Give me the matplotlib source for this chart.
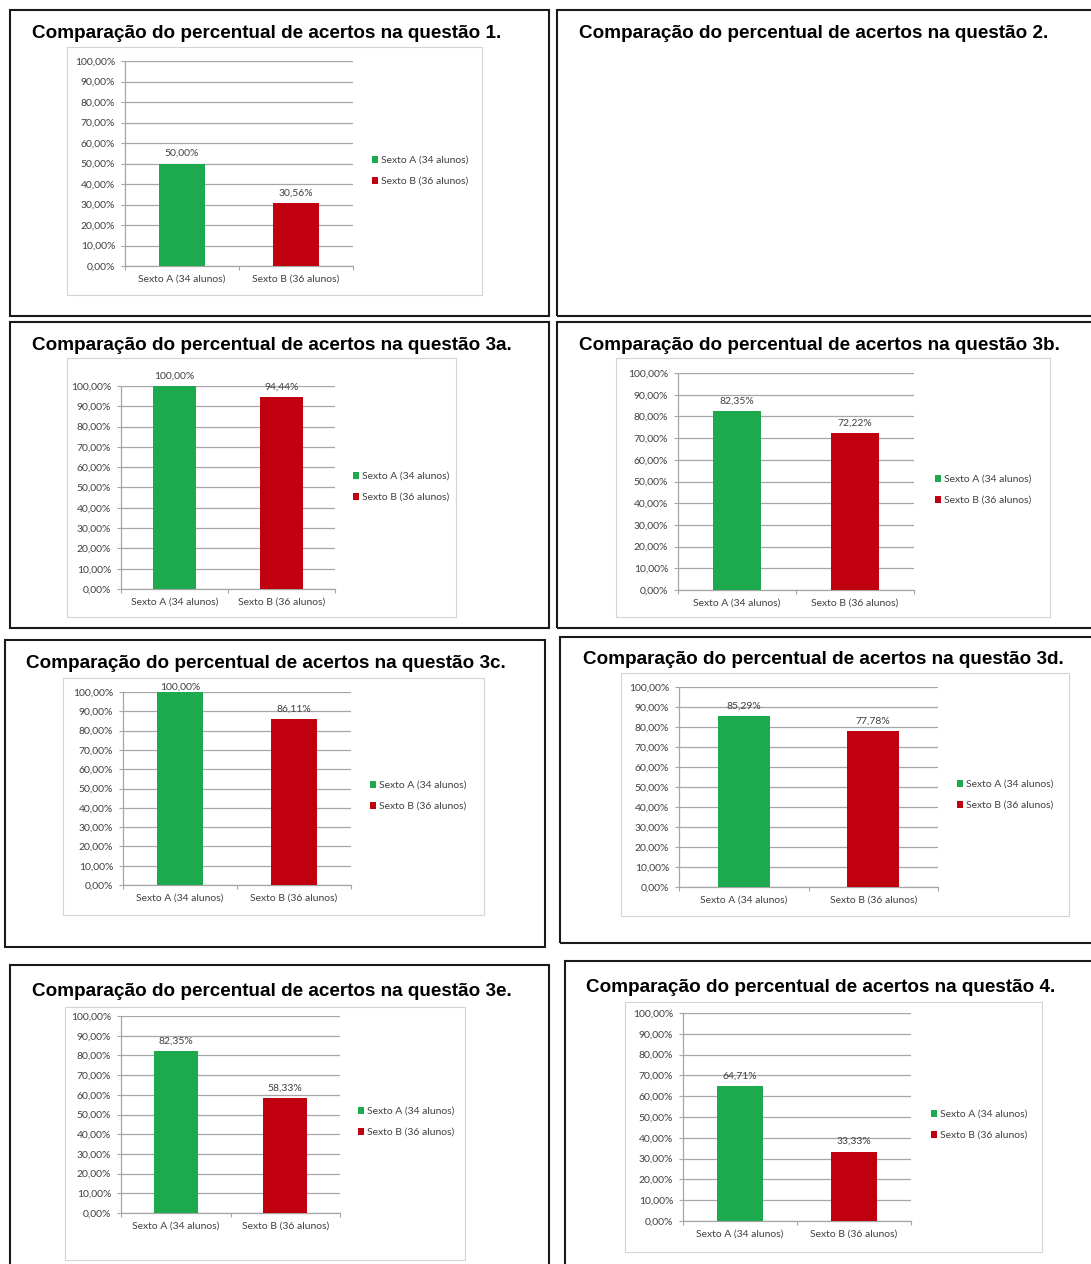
import matplotlib.pyplot as plt
from matplotlib.patches import Rectangle

W, H = 1091, 1264

# dados
questoes = ["1", "2", "3a", "3b", "3c", "3d", "3e", "4"]
turmas = ["Sexto A (34 alunos)", "Sexto B (36 alunos)"]
sexto_a = [50.00, None, 100.00, 82.35, 100.00, 85.29, 82.35, 64.71]
sexto_b = [30.56, None, 94.44, 72.22, 86.11, 77.78, 58.33, 33.33]
yticks = [0, 10, 20, 30, 40, 50, 60, 70, 80, 90, 100]

cores = ["#1daa4f", "#c0000e"]

# layout em pixels (x0, y0, x1, y1)
molduras = [(10, 10, 549, 316), (557, 10, 1093, 316),
            (10, 322, 549, 628), (557, 322, 1093, 628),
            (5, 640, 545, 947), (560, 637, 1093, 943),
            (10, 965, 549, 1268), (565, 961, 1093, 1268)]
titulos_xy = [(32, 33), (579, 33), (32, 345), (579, 345),
              (26, 663), (583, 660), (32, 992), (586, 987)]
caixas = [(67, 47, 482, 295), None, (67, 358, 456, 617), (616, 358, 1050, 617),
          (63, 678, 484, 915), (621, 673, 1069, 916), (65, 1007, 465, 1260),
          (625, 1002, 1042, 1252)]
areas = [(125, 61, 353, 266), None, (121, 386, 335, 589), (678, 373, 914, 590),
         (123, 692, 351, 885), (679, 687, 938, 887), (121, 1016, 340, 1213),
         (683, 1013, 911, 1221)]
legendas_xy = [(372, 171), None, (353, 487), (935, 490),
               (370, 796), (957, 795), (358, 1122), (931, 1125)]

fonte = "Lato"
fs = 7.5


def fig_rect(x0, y0, x1, y1):
    return [x0 / W, 1 - y1 / H, (x1 - x0) / W, (y1 - y0) / H]


def fmt(v):
    return f"{v:.2f}".replace(".", ",") + "%"


fig = plt.figure(figsize=(W / 100, H / 100), dpi=100)

for i, q in enumerate(questoes):
    x0, y0, x1, y1 = molduras[i]
    fig.patches.append(Rectangle((x0 / W, 1 - y1 / H), (x1 - x0) / W, (y1 - y0) / H,
                                 transform=fig.transFigure, fill=False,
                                 edgecolor="#1a1a1a", lw=1.5, zorder=-2))
    tx, ty = titulos_xy[i]
    fig.text(tx / W, 1 - ty / H, f"Comparação do percentual de acertos na questão {q}.",
             ha="left", va="center", fontsize=13.6, fontweight="bold",
             family="Liberation Sans", color="black")

    if sexto_a[i] is None:
        continue

    cx0, cy0, cx1, cy1 = caixas[i]
    fig.patches.append(Rectangle((cx0 / W, 1 - cy1 / H), (cx1 - cx0) / W, (cy1 - cy0) / H,
                                 transform=fig.transFigure, facecolor="white",
                                 edgecolor="#d4d4d4", lw=0.8, zorder=-1))

    ax = fig.add_axes(fig_rect(*areas[i]))
    ax.patch.set_alpha(0)
    valores = [sexto_a[i], sexto_b[i]]
    barras = ax.bar([0, 1], valores, width=0.4, color=cores, zorder=3)
    for j, v in enumerate(valores):
        pad = 0 if (v >= 100 and q == "3c") else 4
        ax.annotate(fmt(v), (j, v), xytext=(0, pad), textcoords="offset points",
                    ha="center", va="bottom", fontsize=fs, family=fonte,
                    color="#404040", annotation_clip=False)

    ax.set_xlim(-0.5, 1.5)
    ax.set_ylim(0, 100)
    ax.set_yticks(yticks)
    ax.set_yticklabels([fmt(t) for t in yticks], fontsize=fs, family=fonte, color="#404040")
    ax.yaxis.grid(True, color="#a6a6a6", lw=0.9)
    ax.set_axisbelow(True)
    ax.set_xticks([-0.5, 0.5, 1.5])
    ax.set_xticklabels([])
    ax.set_xticks([0, 1], minor=True)
    ax.set_xticklabels(turmas, minor=True, fontsize=fs, family=fonte, color="#404040")
    ax.tick_params(axis="x", which="major", length=3, color="#a6a6a6")
    ax.tick_params(axis="x", which="minor", length=0, pad=6)
    ax.tick_params(axis="y", length=3, color="#a6a6a6", pad=4)
    for s in ["top", "right"]:
        ax.spines[s].set_visible(False)
    for s in ["left", "bottom"]:
        ax.spines[s].set_color("#a6a6a6")
        ax.spines[s].set_linewidth(0.9)

    lx, ly = legendas_xy[i]
    fig.legend(handles=list(barras.patches), labels=turmas, loc="center left",
               bbox_to_anchor=(lx / W, 1 - ly / H), frameon=False,
               prop={"family": fonte, "size": fs}, labelcolor="#404040",
               handlelength=0.6, handleheight=0.6, handletextpad=0.3,
               labelspacing=1.15, borderpad=0, borderaxespad=0)

fig.savefig("out.png", dpi=100, facecolor="white")
